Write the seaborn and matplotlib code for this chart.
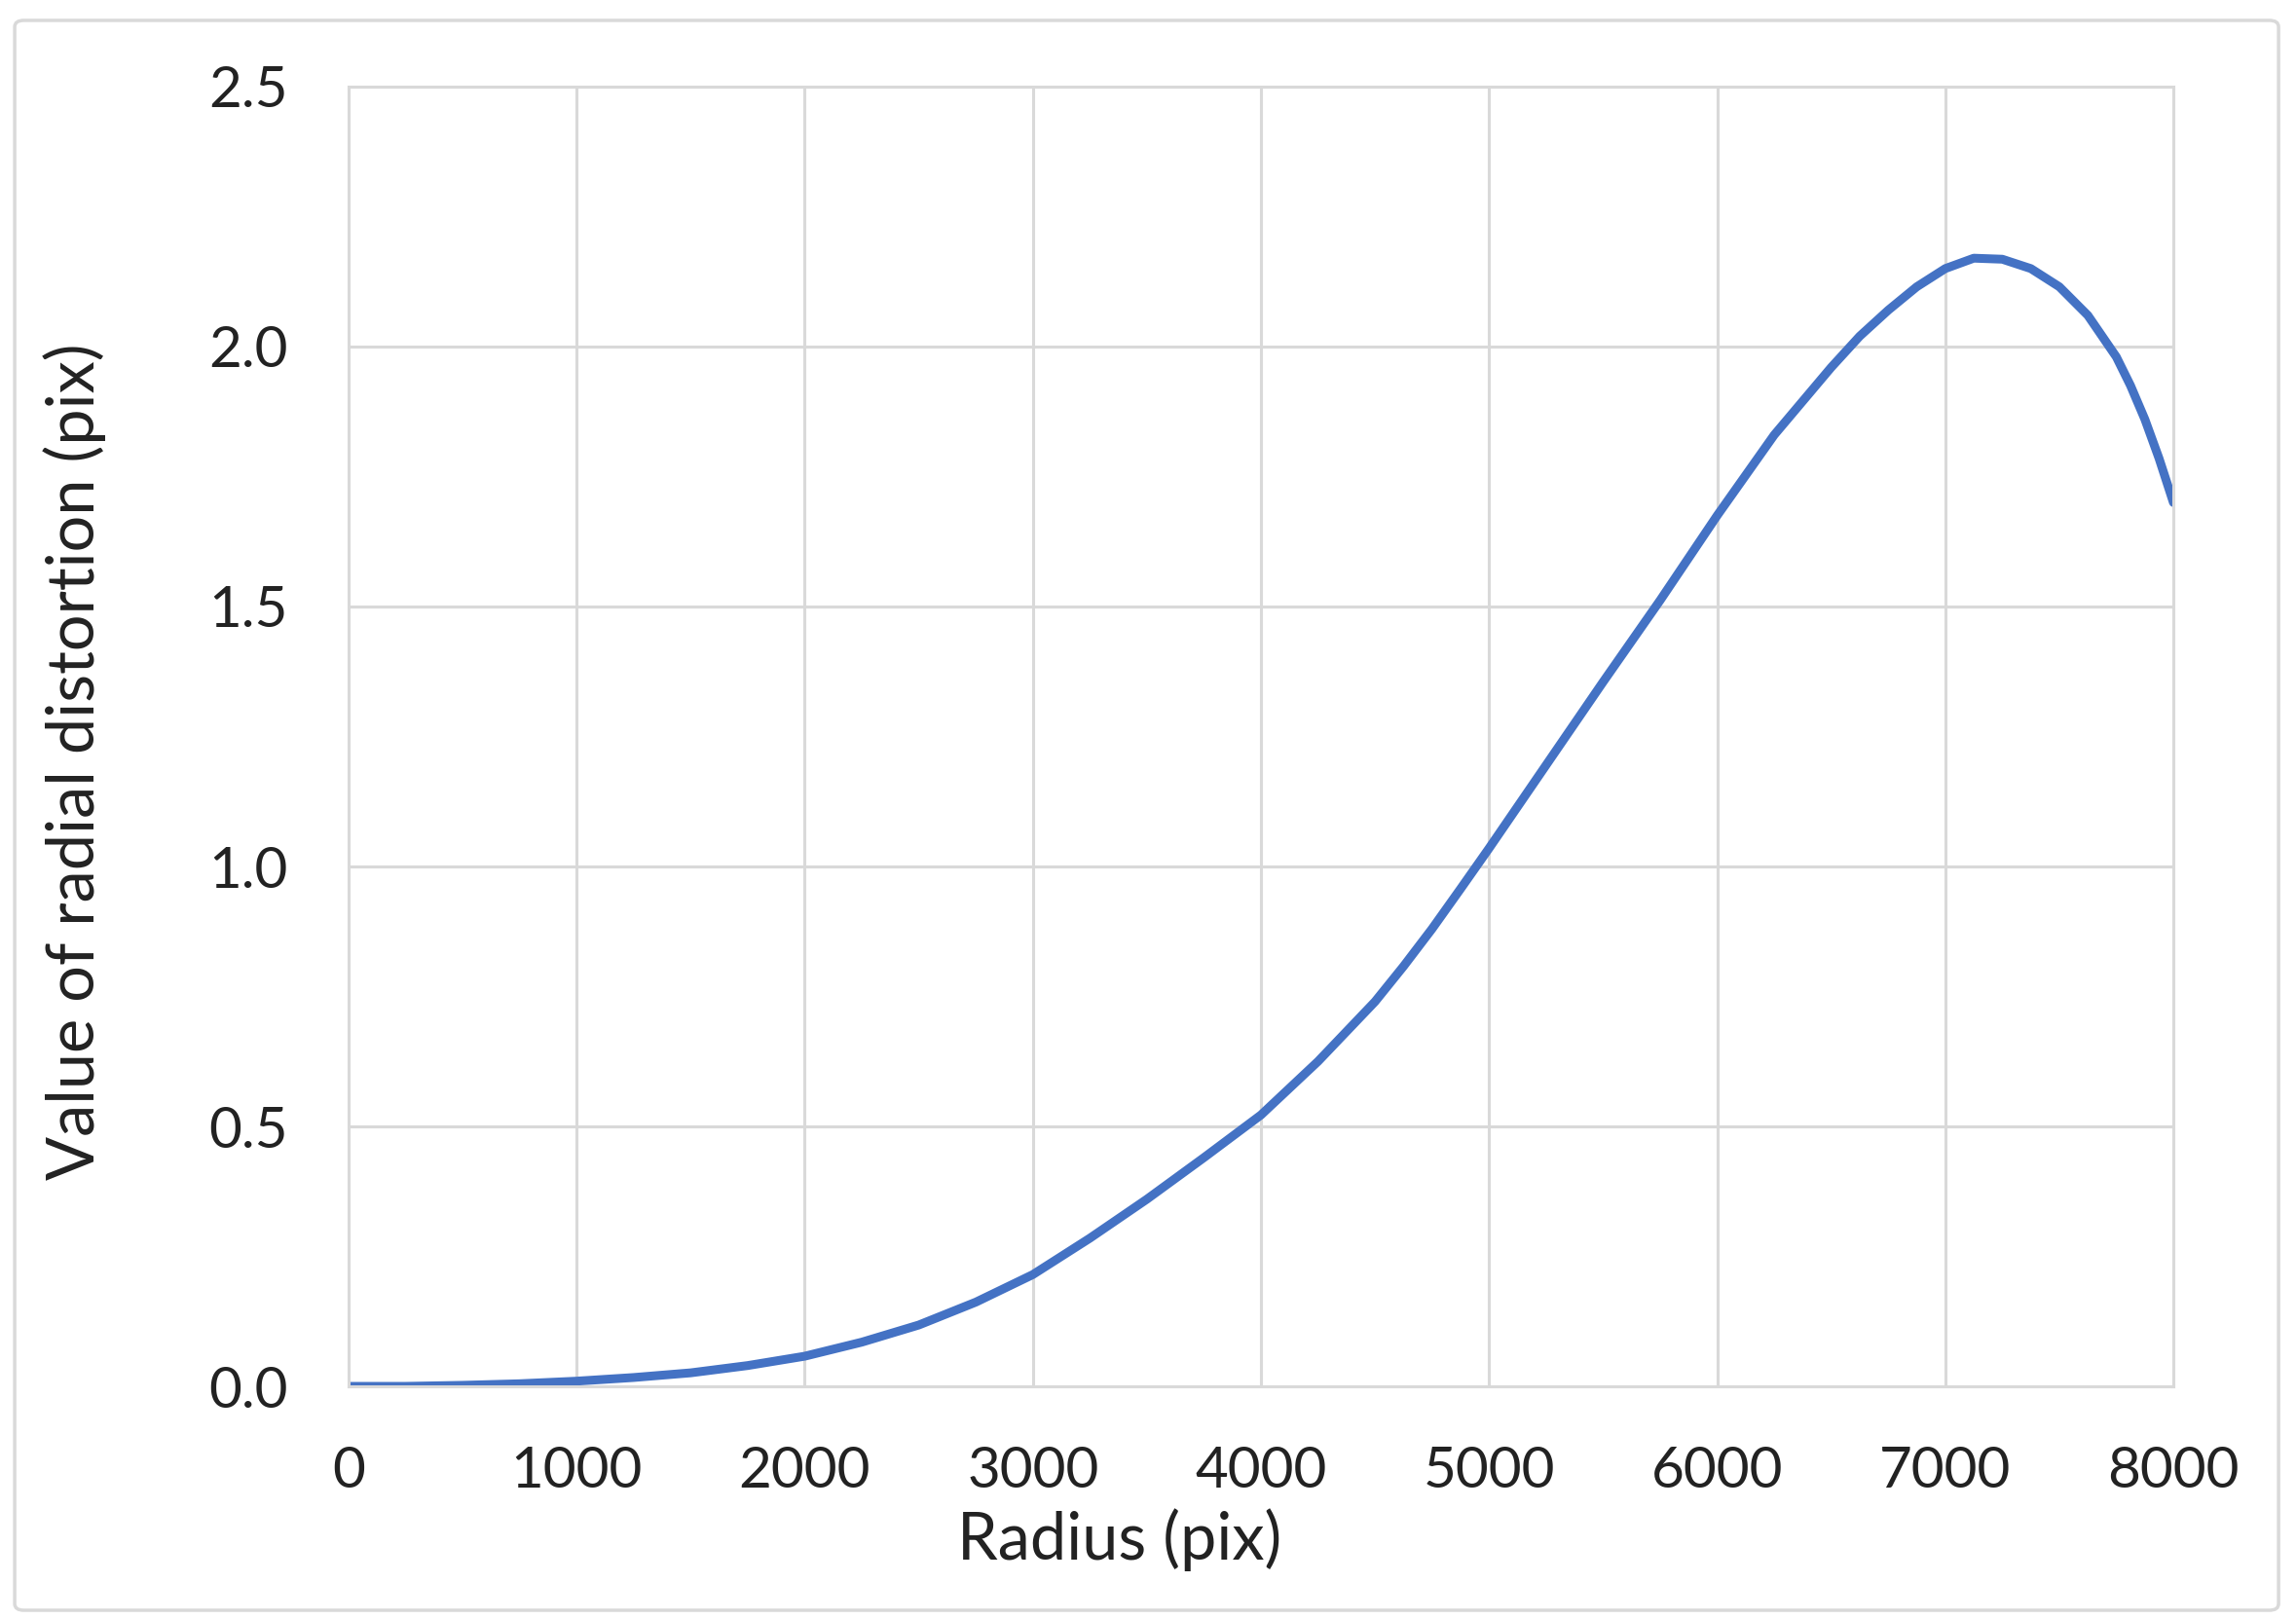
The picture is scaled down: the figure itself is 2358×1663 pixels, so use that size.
import matplotlib
matplotlib.use("Agg")
import matplotlib.pyplot as plt
from matplotlib.patches import FancyBboxPatch
import seaborn as sns
import pandas as pd

# values
radius = [0, 250, 500, 750, 1000, 1250, 1500, 1750, 2000, 2250, 2500, 2750,
          3000, 3250, 3500, 3750, 4000, 4250, 4500, 4625, 4750, 4875, 5000,
          5250, 5500, 5750, 6000, 6250, 6500, 6625, 6750, 6875, 7000, 7125,
          7250, 7375, 7500, 7625, 7750, 7812, 7875, 7937, 8000]
distortion = [0.000, 0.000, 0.002, 0.005, 0.010, 0.017, 0.026, 0.040, 0.058,
              0.085, 0.118, 0.162, 0.215, 0.285, 0.360, 0.440, 0.522, 0.625,
              0.740, 0.808, 0.880, 0.957, 1.035, 1.195, 1.355, 1.512, 1.675,
              1.830, 1.960, 2.020, 2.070, 2.115, 2.150, 2.170, 2.168, 2.150,
              2.115, 2.060, 1.980, 1.925, 1.860, 1.785, 1.700]

x_ticks = [0, 1000, 2000, 3000, 4000, 5000, 6000, 7000, 8000]
y_ticks = [0.0, 0.5, 1.0, 1.5, 2.0, 2.5]

df = pd.DataFrame({"Radius (pix)": radius, "Value of radial distortion (pix)": distortion})

sns.set_style("whitegrid", {"grid.color": "#d9d9d9", "axes.edgecolor": "#d9d9d9"})
plt.rcParams["font.family"] = ["Lato", "DejaVu Sans"]

fig = plt.figure(figsize=(23.58, 16.63), dpi=100)
ax = fig.add_axes([0.1518, 0.1437, 0.7948, 0.8028])

sns.lineplot(data=df, x="Radius (pix)", y="Value of radial distortion (pix)",
             ax=ax, color="#4472C4", linewidth=6.5)

ax.set_xlim(0, 8000)
ax.set_ylim(0, 2.5)
ax.set_xticks(x_ticks)
ax.set_yticks(y_ticks)
ax.set_xticklabels([str(t) for t in x_ticks])
ax.set_yticklabels([f"{t:.1f}" for t in y_ticks])
ax.tick_params(axis="both", length=0, labelsize=42, colors="#222222")
ax.tick_params(axis="y", pad=45)
ax.tick_params(axis="x", pad=44)
ax.grid(True, color="#d9d9d9", linewidth=2.2)
for s in ax.spines.values():
    s.set_color("#d9d9d9")
    s.set_linewidth(2.2)

ax.set_xlabel("Radius (pix)", fontsize=48, color="#222222")
ax.set_ylabel("Value of radial distortion (pix)", fontsize=48, color="#222222")
ax.xaxis.set_label_coords(0.4226, -0.094)
ax.yaxis.set_label_coords(-0.133, 0.481)

# chart area border
border = FancyBboxPatch((0.0064, 0.0054), 0.986, 0.982, boxstyle="round,pad=0,rounding_size=0.004",
                        transform=fig.transFigure, fill=False, edgecolor="#d9d9d9", linewidth=2.5)
fig.patches.append(border)

fig.savefig("out.png", dpi=100)
